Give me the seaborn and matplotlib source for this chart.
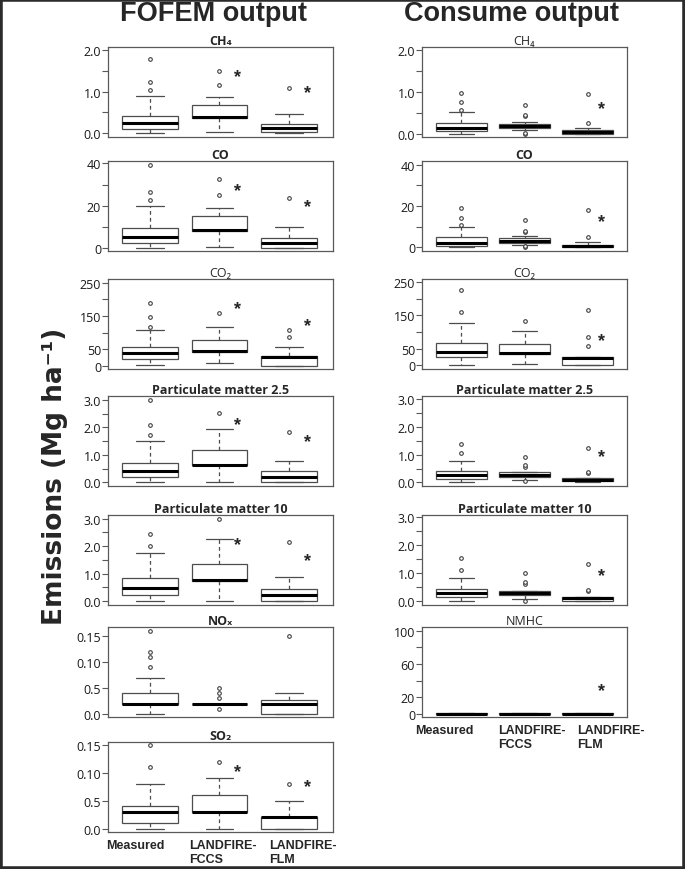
import matplotlib
matplotlib.use("Agg")
import matplotlib.pyplot as plt
import matplotlib.transforms as mtransforms
from matplotlib.patches import Rectangle
import pandas as pd
import seaborn as sns

sns.set_theme(style="ticks")
plt.rcParams["font.family"] = ["Open Sans", "DejaVu Sans"]

groups = ["Measured", "LANDFIRE-\nFCCS", "LANDFIRE-\nFLM"]

# five-number summaries per group: [low whisker, Q1, median, Q3, high whisker]
fofem_ch4 = [[0.0, 0.10, 0.23, 0.41, 0.90], [0.01, 0.36, 0.39, 0.67, 0.87], [0.0, 0.02, 0.11, 0.21, 0.46]]
fofem_ch4_out = [[1.03, 1.23, 1.79], [1.15, 1.51], [1.09]]
fofem_ch4_sig = [None, 1.44, 1.05]

fofem_co = [[0, 2.5, 5.3, 9.4, 19.8], [0.5, 8.0, 8.4, 15.0, 19.1], [0, 0.3, 2.3, 5.0, 9.8]]
fofem_co_out = [[22.7, 26.7, 39.0], [25.3, 32.7], [23.9]]
fofem_co_sig = [None, 28.6, 21.0]

fofem_co2 = [[2, 21, 39, 58, 107], [9, 43, 45, 79, 117], [0, 1, 27, 30, 58]]
fofem_co2_out = [[118, 146, 188], [159], [86, 108]]
fofem_co2_sig = [None, 180, 130]

fofem_pm25 = [[0, 0.19, 0.43, 0.72, 1.52], [0.02, 0.62, 0.63, 1.17, 1.93], [0, 0.02, 0.20, 0.40, 0.77]]
fofem_pm25_out = [[1.72, 2.07, 3.0], [2.53], [1.83]]
fofem_pm25_sig = [None, 2.2, 1.6]

fofem_pm10 = [[0, 0.22, 0.47, 0.83, 1.76], [0.02, 0.73, 0.76, 1.34, 2.27], [0, 0.01, 0.22, 0.43, 0.89]]
fofem_pm10_out = [[2.02, 2.44], [2.98], [2.15]]
fofem_pm10_sig = [None, 2.17, 1.57]

fofem_nox = [[0, 0.02, 0.02, 0.04, 0.07], [0.02, 0.02, 0.02, 0.02, 0.02], [0, 0, 0.02, 0.026, 0.04]]
fofem_nox_out = [[0.09, 0.11, 0.12, 0.16], [0.01, 0.03, 0.04, 0.05], [0.15]]
fofem_nox_sig = [None, None, None]

fofem_so2 = [[0, 0.01, 0.03, 0.04, 0.08], [0, 0.03, 0.03, 0.06, 0.09], [0, 0, 0.02, 0.021, 0.05]]
fofem_so2_out = [[0.11, 0.15], [0.12], [0.08]]
fofem_so2_sig = [None, 0.108, 0.08]

consume_ch4 = [[0.0, 0.07, 0.14, 0.26, 0.52], [0.08, 0.14, 0.18, 0.23, 0.27], [0, 0, 0.03, 0.08, 0.14]]
consume_ch4_out = [[0.58, 0.75, 0.98], [0.0, 0.02, 0.42, 0.44, 0.70], [0.26, 0.95]]
consume_ch4_sig = [None, None, 0.68]

consume_co = [[0, 0.5, 1.9, 4.8, 9.7], [1.3, 1.9, 3.2, 4.7, 5.5], [0, 0, 0.6, 1.3, 2.7]]
consume_co_out = [[10.8, 14.2, 18.9], [0.0, 0.5, 7.6, 8.1, 13.2], [4.8, 18.2]]
consume_co_sig = [None, None, 13.7]

consume_co2 = [[0, 24, 41, 68, 128], [4, 34, 38, 64, 102], [0, 0, 23, 26, 26]]
consume_co2_out = [[161, 227], [134], [59, 85, 167]]
consume_co2_sig = [None, None, 84]

consume_pm25 = [[0.02, 0.13, 0.27, 0.41, 0.77], [0.09, 0.19, 0.27, 0.39, 0.39], [0, 0.04, 0.07, 0.15, 0.15]]
consume_pm25_out = [[1.05, 1.40], [0.04, 0.55, 0.63, 0.93], [0.35, 0.37, 1.23]]
consume_pm25_sig = [None, None, 1.02]

consume_pm10 = [[0, 0.13, 0.28, 0.42, 0.82], [0.06, 0.23, 0.28, 0.37, 0.37], [0, 0, 0.10, 0.13, 0.13]]
consume_pm10_out = [[1.12, 1.54], [0.02, 0.61, 0.67, 1.0], [0.37, 0.39, 1.33]]
consume_pm10_sig = [None, None, 1.0]

consume_nmhc = [[0, 0, 0.4, 0.8, 0.8], [0, 0, 0.4, 0.8, 0.8], [0, 0, 0.4, 0.8, 0.8]]
consume_nmhc_out = [[], [], []]
consume_nmhc_sig = [None, None, 32]

pm_ticks = ([0, 1, 2, 3], ["0.0", "1.0", "2.0", "3.0"], [0.5, 1.5, 2.5])
small_ticks = ([0, 0.05, 0.10, 0.15], ["0.0", "0.5", "0.10", "0.15"], [])

fofem_panels = [
    ("CH₄", fofem_ch4, fofem_ch4_out, fofem_ch4_sig, (-0.1, 2.08), ([0, 1, 2], ["0.0", "1.0", "2.0"], [0.5, 1.5]), "bold"),
    ("CO", fofem_co, fofem_co_out, fofem_co_sig, (-1.3, 41.1), ([0, 20, 40], ["0", "20", "40"], [10, 30]), "bold"),
    ("CO₂", fofem_co2, fofem_co2_out, fofem_co2_sig, (-9, 261), ([0, 50, 150, 250], ["0", "50", "150", "250"], [100, 200]), "normal"),
    ("Particulate matter 2.5", fofem_pm25, fofem_pm25_out, fofem_pm25_sig, (-0.13, 3.14), pm_ticks, "bold"),
    ("Particulate matter 10", fofem_pm10, fofem_pm10_out, fofem_pm10_sig, (-0.14, 3.13), pm_ticks, "bold"),
    ("NOₓ", fofem_nox, fofem_nox_out, fofem_nox_sig, (-0.006, 0.168), small_ticks, "bold"),
    ("SO₂", fofem_so2, fofem_so2_out, fofem_so2_sig, (-0.006, 0.155), small_ticks, "bold"),
]

consume_panels = [
    ("CH₄", consume_ch4, consume_ch4_out, consume_ch4_sig, (-0.08, 2.08), ([0, 1, 2], ["0.0", "1.0", "2.0"], [0.5, 1.5]), "normal"),
    ("CO", consume_co, consume_co_out, consume_co_sig, (-1.8, 41.8), ([0, 20, 40], ["0", "20", "40"], [10, 30]), "bold"),
    ("CO₂", consume_co2, consume_co2_out, consume_co2_sig, (-11, 259), ([0, 50, 150, 250], ["0", "50", "150", "250"], [100, 200]), "normal"),
    ("Particulate matter 2.5", consume_pm25, consume_pm25_out, consume_pm25_sig, (-0.13, 3.11), pm_ticks, "bold"),
    ("Particulate matter 10", consume_pm10, consume_pm10_out, consume_pm10_sig, (-0.14, 3.07), pm_ticks, "bold"),
    ("NMHC", consume_nmhc, consume_nmhc_out, consume_nmhc_sig, (-3.6, 104.4), ([0, 20, 60, 100], ["0", "20", "60", "100"], [40, 80]), "normal"),
]

W, H = 685, 870
fig = plt.figure(figsize=(W / 100, H / 100), dpi=100)
tops = [48, 162, 280, 397, 516, 628, 743]
ph = 90


def draw_panel(ax, title, stats, outs, sig, ylim, ticks, weight, xlim, sig_dx):
    box_df = pd.DataFrame({"group": [g for g, s in zip(groups, stats) for _ in s],
                           "value": [v for s in stats for v in s]})
    sns.boxplot(data=box_df, x="group", y="value", order=groups, whis=(0, 100), width=0.8,
                color="white", linecolor="0.3", linewidth=0.9, showfliers=False,
                medianprops={"color": "black", "linewidth": 2.2},
                whiskerprops={"linestyle": (0, (3, 2.5))}, ax=ax)
    out_df = pd.DataFrame({"group": [g for g, o in zip(groups, outs) for _ in o],
                           "value": [v for o in outs for v in o]})
    if len(out_df):
        sns.stripplot(data=out_df, x="group", y="value", order=groups, jitter=False,
                      color="white", edgecolor="0.25", linewidth=0.8, size=2.6, ax=ax)
    shift = mtransforms.ScaledTranslation(0, -3 / 100, fig.dpi_scale_trans)
    for i, v in enumerate(sig):
        if v is not None:
            ax.text(i + sig_dx, v, "*", ha="center", va="center", fontsize=13,
                    fontweight="bold", color="0.15", fontfamily="Liberation Sans",
                    transform=ax.transData + shift)
    ax.set_xlim(xlim)
    ax.set_ylim(ylim)
    ax.set_yticks(ticks[0], ticks[1])
    ax.set_yticks(ticks[2], minor=True)
    ax.tick_params(axis="y", which="both", length=4, width=0.8, color="0.35",
                   labelsize=9, pad=1, labelcolor="0.1")
    ax.tick_params(axis="x", length=0)
    ax.set_xlabel("")
    ax.set_ylabel("")
    for sp in ax.spines.values():
        sp.set_color("0.35")
        sp.set_linewidth(0.9)
    ax.set_title(title, fontsize=9, fontweight=weight, pad=2)


def label_bottom(ax, offsets):
    ax.set_xticks([0, 1, 2], groups, fontfamily="Liberation Sans", fontweight="bold",
                  fontsize=9, multialignment="left")
    ax.tick_params(axis="x", pad=5)
    for lab, dx in zip(ax.get_xticklabels(), offsets):
        lab.set_transform(lab.get_transform() + mtransforms.ScaledTranslation(dx / 100, 0, fig.dpi_scale_trans))


for k, p in enumerate(fofem_panels):
    ax = fig.add_axes([108 / W, 1 - (tops[k] + ph) / H, 225 / W, ph / H])
    draw_panel(ax, *p, xlim=(-0.6, 2.63), sig_dx=0.26)
    if k == len(fofem_panels) - 1:
        label_bottom(ax, [-14, 3, 14])
    else:
        ax.set_xticklabels([])

for k, p in enumerate(consume_panels):
    ax = fig.add_axes([422 / W, 1 - (tops[k] + ph) / H, 205 / W, ph / H])
    draw_panel(ax, *p, xlim=(-0.62, 2.62), sig_dx=0.21)
    if k == len(consume_panels) - 1:
        label_bottom(ax, [-17, 7, 23])
    else:
        ax.set_xticklabels([])

fig.text(214 / W, 1 - 14 / H, "FOFEM output", ha="center", va="center", fontsize=19.5,
         fontweight="bold", fontfamily="Liberation Sans")
fig.text(511 / W, 1 - 14 / H, "Consume output", ha="center", va="center", fontsize=19.5,
         fontweight="bold", fontfamily="Liberation Sans")
fig.text(55 / W, 1 - 476 / H, "Emissions (Mg ha⁻¹)", rotation=90, ha="center",
         va="center", fontsize=19, fontweight="bold", fontfamily="DejaVu Sans")

fig.patches.append(Rectangle((0, 0), 1, 1, transform=fig.transFigure, fill=False,
                             edgecolor="#2b2b2b", linewidth=4))

fig.savefig("out.png", dpi=100)
